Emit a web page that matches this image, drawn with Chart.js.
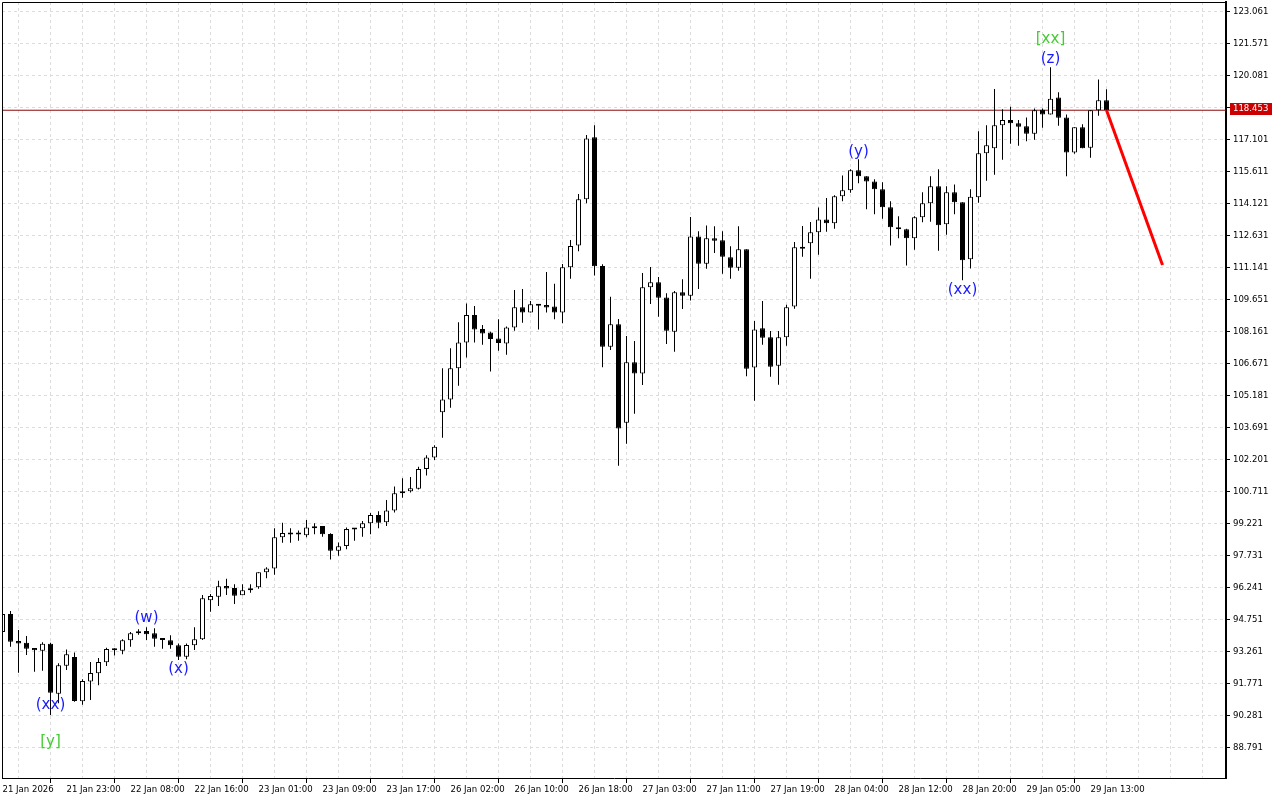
<!DOCTYPE html>
<html>
<head>
<meta charset="utf-8">
<title>H1 chart</title>
<script src="https://cdn.jsdelivr.net/npm/chart.js@4.4.1/dist/chart.umd.min.js"></script>
<style>
  html, body { margin: 0; padding: 0; background: #ffffff; }
  #wrap { width: 1280px; height: 800px; }
</style>
</head>
<body>
<div id="wrap"><canvas id="chart" width="1280" height="800"></canvas></div>
<script>
// Hourly candles, 21 Jan 15:00 .. 29 Jan 14:00
const opens = [
  94.16, 95.00, 93.74, 93.66, 93.41, 93.29, 93.61, 91.29, 92.59, 93.00,
  90.93, 91.86, 92.24, 92.75, 93.37, 93.29, 93.77, 94.10, 94.21, 94.10,
  93.87, 93.77, 93.54, 93.01, 93.54, 93.82, 95.64, 95.80, 96.30, 96.21,
  95.87, 96.16, 96.24, 96.94, 97.12, 98.57, 98.77, 98.76, 98.66, 99.03,
  99.10, 98.72, 97.94, 98.16, 98.99, 98.99, 99.22, 99.61, 99.27, 99.82,
  100.62, 100.71, 100.83, 101.75, 102.28, 104.39, 104.99, 106.44, 107.64, 108.92,
  108.27, 108.10, 107.82, 107.59, 108.34, 109.28, 109.04, 109.42, 109.39, 109.32,
  109.04, 111.14, 112.16, 114.31, 117.19, 111.20, 107.44, 108.49, 103.90, 106.72,
  106.19, 110.21, 110.44, 109.74, 108.14, 109.98, 109.82, 112.58, 111.31, 112.49,
  112.40, 111.61, 111.12, 111.98, 106.48, 108.30, 107.88, 106.56, 107.88, 109.31,
  112.00, 112.26, 112.77, 113.37, 113.19, 114.45, 114.73, 115.66, 115.38, 115.14,
  114.77, 113.94, 113.00, 112.91, 112.49, 113.47, 114.12, 114.91, 113.14, 114.63,
  114.17, 111.51, 114.40, 116.45, 116.68, 117.75, 118.00, 117.85, 117.71, 117.36,
  118.48, 118.26, 119.05, 118.12, 116.48, 117.66, 116.71, 118.45, 118.92
];
const highs = [
  95.14, 95.14, 94.25, 93.97, 93.41, 93.68, 93.66, 92.70, 93.35, 93.20,
  91.96, 92.76, 92.95, 93.43, 93.40, 93.82, 94.16, 94.29, 94.38, 94.33,
  93.87, 94.01, 93.63, 93.63, 94.38, 95.88, 95.93, 96.55, 96.64, 96.38,
  96.38, 96.38, 96.94, 97.17, 98.99, 99.25, 98.99, 98.88, 99.37, 99.22,
  99.10, 98.76, 98.33, 99.02, 98.99, 99.33, 99.70, 99.78, 100.31, 100.93,
  101.32, 101.38, 101.85, 102.39, 102.85, 106.44, 107.37, 108.58, 109.46, 109.34,
  108.45, 108.14, 108.72, 108.38, 110.08, 110.13, 109.57, 109.42, 110.92, 110.38,
  111.29, 112.41, 114.55, 117.30, 117.76, 111.28, 109.77, 108.73, 107.94, 107.71,
  110.87, 111.15, 110.69, 109.93, 110.04, 110.58, 113.48, 112.82, 113.09, 113.05,
  112.82, 112.12, 113.05, 111.98, 108.64, 109.57, 108.17, 108.17, 109.40, 112.32,
  113.06, 113.25, 113.93, 114.37, 114.49, 115.42, 115.70, 116.17, 115.38, 115.24,
  115.10, 114.21, 113.52, 112.94, 113.52, 114.63, 115.38, 115.70, 114.91, 115.00,
  114.17, 114.77, 117.47, 117.75, 119.44, 118.50, 118.62, 118.00, 118.12, 118.54,
  118.54, 120.45, 119.29, 118.26, 117.66, 117.80, 118.45, 119.89, 119.43
];
const lows = [
  94.07, 93.47, 92.26, 93.09, 92.31, 92.36, 90.29, 90.84, 92.39, 90.91,
  90.77, 90.99, 91.68, 92.58, 93.07, 93.12, 93.47, 94.03, 93.79, 93.47,
  93.38, 93.38, 92.86, 92.89, 93.32, 93.79, 95.10, 95.37, 95.88, 95.46,
  95.87, 95.99, 96.17, 96.66, 96.83, 98.32, 98.32, 98.41, 98.57, 98.71,
  98.60, 97.54, 97.71, 98.01, 98.41, 98.60, 98.71, 98.99, 99.10, 99.72,
  100.41, 100.65, 100.80, 101.45, 102.17, 103.21, 104.60, 105.63, 106.94, 107.64,
  107.53, 106.29, 107.26, 107.07, 108.19, 108.56, 109.04, 108.24, 109.04, 108.72,
  108.53, 110.61, 111.89, 114.12, 110.76, 106.49, 107.29, 101.90, 102.93, 104.32,
  105.66, 109.43, 108.84, 107.57, 107.21, 109.20, 109.59, 110.13, 111.07, 111.81,
  110.84, 110.61, 110.98, 106.07, 104.93, 107.54, 106.05, 105.67, 107.49, 109.21,
  111.63, 110.61, 111.73, 112.80, 112.94, 114.21, 114.61, 115.05, 113.84, 113.61,
  113.40, 112.15, 112.49, 111.23, 111.96, 113.24, 113.26, 111.91, 112.66, 113.61,
  110.54, 111.09, 114.15, 115.17, 115.45, 116.15, 116.89, 116.80, 117.01, 117.08,
  117.64, 118.26, 117.73, 115.38, 116.43, 116.68, 116.24, 118.20, 118.44
];
const closes = [
  95.00, 93.71, 93.63, 93.38, 93.31, 93.61, 91.33, 92.61, 93.12, 90.95,
  91.88, 92.25, 92.76, 93.37, 93.31, 93.77, 94.10, 94.19, 94.05, 93.85,
  93.79, 93.54, 93.01, 93.55, 93.82, 95.73, 95.84, 96.29, 96.19, 95.85,
  96.10, 96.10, 96.94, 97.12, 98.57, 98.77, 98.70, 98.70, 99.03, 98.99,
  98.71, 97.94, 98.15, 98.95, 98.93, 99.22, 99.61, 99.25, 99.82, 100.62,
  100.71, 100.85, 101.75, 102.29, 102.79, 104.99, 106.44, 107.64, 108.92, 108.24,
  108.06, 107.80, 107.62, 108.34, 109.28, 109.04, 109.42, 109.35, 109.27, 109.04,
  111.14, 112.13, 114.31, 117.14, 111.19, 107.44, 108.49, 103.63, 106.72, 106.19,
  110.21, 110.44, 109.72, 108.19, 109.98, 109.82, 112.58, 111.31, 112.49, 112.38,
  111.63, 111.12, 111.98, 106.42, 108.25, 107.86, 106.51, 107.88, 109.28, 112.07,
  112.04, 112.77, 113.37, 113.19, 114.45, 114.73, 115.66, 115.38, 115.13, 114.77,
  113.94, 113.00, 112.91, 112.49, 113.47, 114.12, 114.91, 113.10, 114.63, 114.17,
  111.47, 114.43, 116.45, 116.82, 117.75, 118.00, 117.85, 117.69, 117.36, 118.45,
  118.25, 118.99, 118.10, 116.48, 117.66, 116.68, 118.45, 118.92, 118.453
];

// time axis labels (bar index -> text)
const xLabelIdx = [0, 8, 16, 24, 32, 40, 48, 56, 64, 72, 80, 88, 96, 104, 112, 120, 128, 136];
const xLabels = [
  "21 Jan 2026", "21 Jan 23:00", "22 Jan 08:00", "22 Jan 16:00", "23 Jan 01:00",
  "23 Jan 09:00", "23 Jan 17:00", "26 Jan 02:00", "26 Jan 10:00", "26 Jan 18:00",
  "27 Jan 03:00", "27 Jan 11:00", "27 Jan 19:00", "28 Jan 04:00", "28 Jan 12:00",
  "28 Jan 20:00", "29 Jan 05:00", "29 Jan 13:00"
];

// price axis
const yTicks = [
  123.061, 121.571, 120.081, 118.591, 117.101, 115.611, 114.121, 112.631,
  111.141, 109.651, 108.161, 106.671, 105.181, 103.691, 102.201, 100.711,
  99.221, 97.731, 96.241, 94.751, 93.261, 91.771, 90.281, 88.791
];
const yMin = 87.362;
const yMax = 123.493;
const xMin = -0.0625;
const xMax = 152.9375;

const lastPrice = 118.453;

// projected move
const forecastIdx = [138, 145];
const forecastPrice = [118.453, 111.25];

// wave marks
const waveText = ["(xx)", "[y]", "(w)", "(x)", "(y)", "(xx)", "[xx]", "(z)"];
const waveIdx = [6, 6, 18, 22, 107, 120, 131, 131];
const wavePrice = [90.76, 89.04, 94.81, 92.44, 116.51, 110.08, 121.77, 120.84];
const waveColor = ["#1a1aff", "#44cc33", "#1a1aff", "#1a1aff", "#1a1aff", "#1a1aff", "#44cc33", "#1a1aff"];

const axisFont = { family: "'DejaVu Sans Condensed', 'DejaVu Sans', sans-serif", size: 9.5 };

// Build datasets
const bodies = opens.map((o, i) => ({ x: i, y: [o, closes[i]] }));
const wicks = lows.map((l, i) => ({ x: i, y: [l, highs[i]] }));
const bodyColors = opens.map((o, i) => (closes[i] >= o ? "#ffffff" : "#000000"));

const gridIdx = [];
for (let v = 0; v <= 152; v += 4) gridIdx.push(v);

const overlay = {
  id: "overlay",
  beforeDraw(chart) {
    const ctx = chart.ctx;
    ctx.save();
    ctx.fillStyle = "#ffffff";
    ctx.fillRect(0, 0, chart.width, chart.height);
    ctx.restore();
  },
  afterDatasetsDraw(chart) {
    const { ctx, chartArea, scales } = chart;
    ctx.save();
    // frame top / left
    ctx.strokeStyle = "#000000";
    ctx.lineWidth = 1;
    ctx.beginPath();
    ctx.moveTo(chartArea.left + 0.5, chartArea.bottom);
    ctx.lineTo(chartArea.left + 0.5, chartArea.top + 0.5);
    ctx.lineTo(chartArea.right, chartArea.top + 0.5);
    ctx.stroke();

    // wave labels
    ctx.font = "15px 'DejaVu Sans', sans-serif";
    ctx.textAlign = "center";
    ctx.textBaseline = "middle";
    waveText.forEach((t, k) => {
      ctx.fillStyle = waveColor[k];
      ctx.fillText(t, scales.x.getPixelForValue(waveIdx[k]), scales.y.getPixelForValue(wavePrice[k]));
    });
    ctx.restore();
  },
  afterDraw(chart) {
    const { ctx, chartArea, scales } = chart;
    const y = Math.round(scales.y.getPixelForValue(lastPrice)) - 1;
    const x0 = chartArea.right + 4;
    ctx.save();
    ctx.fillStyle = "#cc0000";
    ctx.fillRect(x0, y - 6, 42, 12);
    ctx.fillStyle = "#ffffff";
    ctx.font = axisFont.size + "px " + axisFont.family;
    ctx.textAlign = "left";
    ctx.textBaseline = "middle";
    ctx.fillText(lastPrice.toFixed(3), x0 + 3, y);
    ctx.restore();
  }
};

new Chart(document.getElementById("chart"), {
  type: "bar",
  data: {
    datasets: [
      {
        type: "line",
        data: forecastIdx.map((v, k) => ({ x: v, y: forecastPrice[k] })),
        borderColor: "#ff0000",
        borderWidth: 3,
        pointRadius: 0,
        order: 0
      },
      {
        data: bodies,
        backgroundColor: bodyColors,
        borderColor: "#000000",
        borderWidth: 1,
        borderSkipped: false,
        barThickness: 5,
        minBarLength: 2,
        inflateAmount: 0,
        grouped: false,
        order: 1
      },
      {
        data: wicks,
        backgroundColor: "#000000",
        borderWidth: 0,
        barThickness: 1,
        inflateAmount: 0,
        grouped: false,
        order: 2
      },
      {
        type: "line",
        data: [{ x: xMin, y: lastPrice }, { x: xMax, y: lastPrice }],
        borderColor: "#8c0a0a",
        borderWidth: 1,
        pointRadius: 0,
        order: 3
      }
    ]
  },
  options: {
    responsive: false,
    animation: false,
    events: [],
    layout: { padding: { top: 2, left: 2, right: 0, bottom: 0 } },
    plugins: {
      legend: { display: false },
      tooltip: { enabled: false }
    },
    scales: {
      x: {
        type: "linear",
        min: xMin,
        max: xMax,
        offset: false,
        afterBuildTicks: (scale) => {
          scale.ticks = gridIdx.map((v) => ({ value: v }));
        },
        afterFit: (scale) => {
          scale.height = 22;
          scale.paddingLeft = 0;
          scale.paddingRight = 0;
        },
        grid: {
          color: "#dcdcdc",
          tickLength: 5,
          tickColor: (ctx) => (ctx.tick && xLabelIdx.includes(ctx.tick.value) ? "#000000" : "rgba(0,0,0,0)")
        },
        border: { color: "#000000", width: 1, dash: [3, 3] },
        ticks: {
          autoSkip: false,
          maxRotation: 0,
          minRotation: 0,
          align: "start",
          padding: 1,
          color: "#000000",
          font: axisFont,
          callback: (value) => {
            const k = xLabelIdx.indexOf(value);
            return k >= 0 ? xLabels[k] : "";
          }
        }
      },
      y: {
        type: "linear",
        position: "right",
        min: yMin,
        max: yMax,
        afterBuildTicks: (scale) => {
          scale.ticks = yTicks.map((v) => ({ value: v }));
        },
        afterFit: (scale) => {
          scale.width = 54;
          scale.paddingTop = 0;
          scale.paddingBottom = 0;
        },
        grid: { color: "#dcdcdc", tickLength: 4, tickColor: "#000000" },
        border: { color: "#000000", width: 2, dash: [3, 3] },
        ticks: {
          padding: 3,
          color: "#000000",
          font: axisFont,
          callback: (value) => Number(value).toFixed(3)
        }
      }
    }
  },
  plugins: [overlay]
});
</script>
</body>
</html>
